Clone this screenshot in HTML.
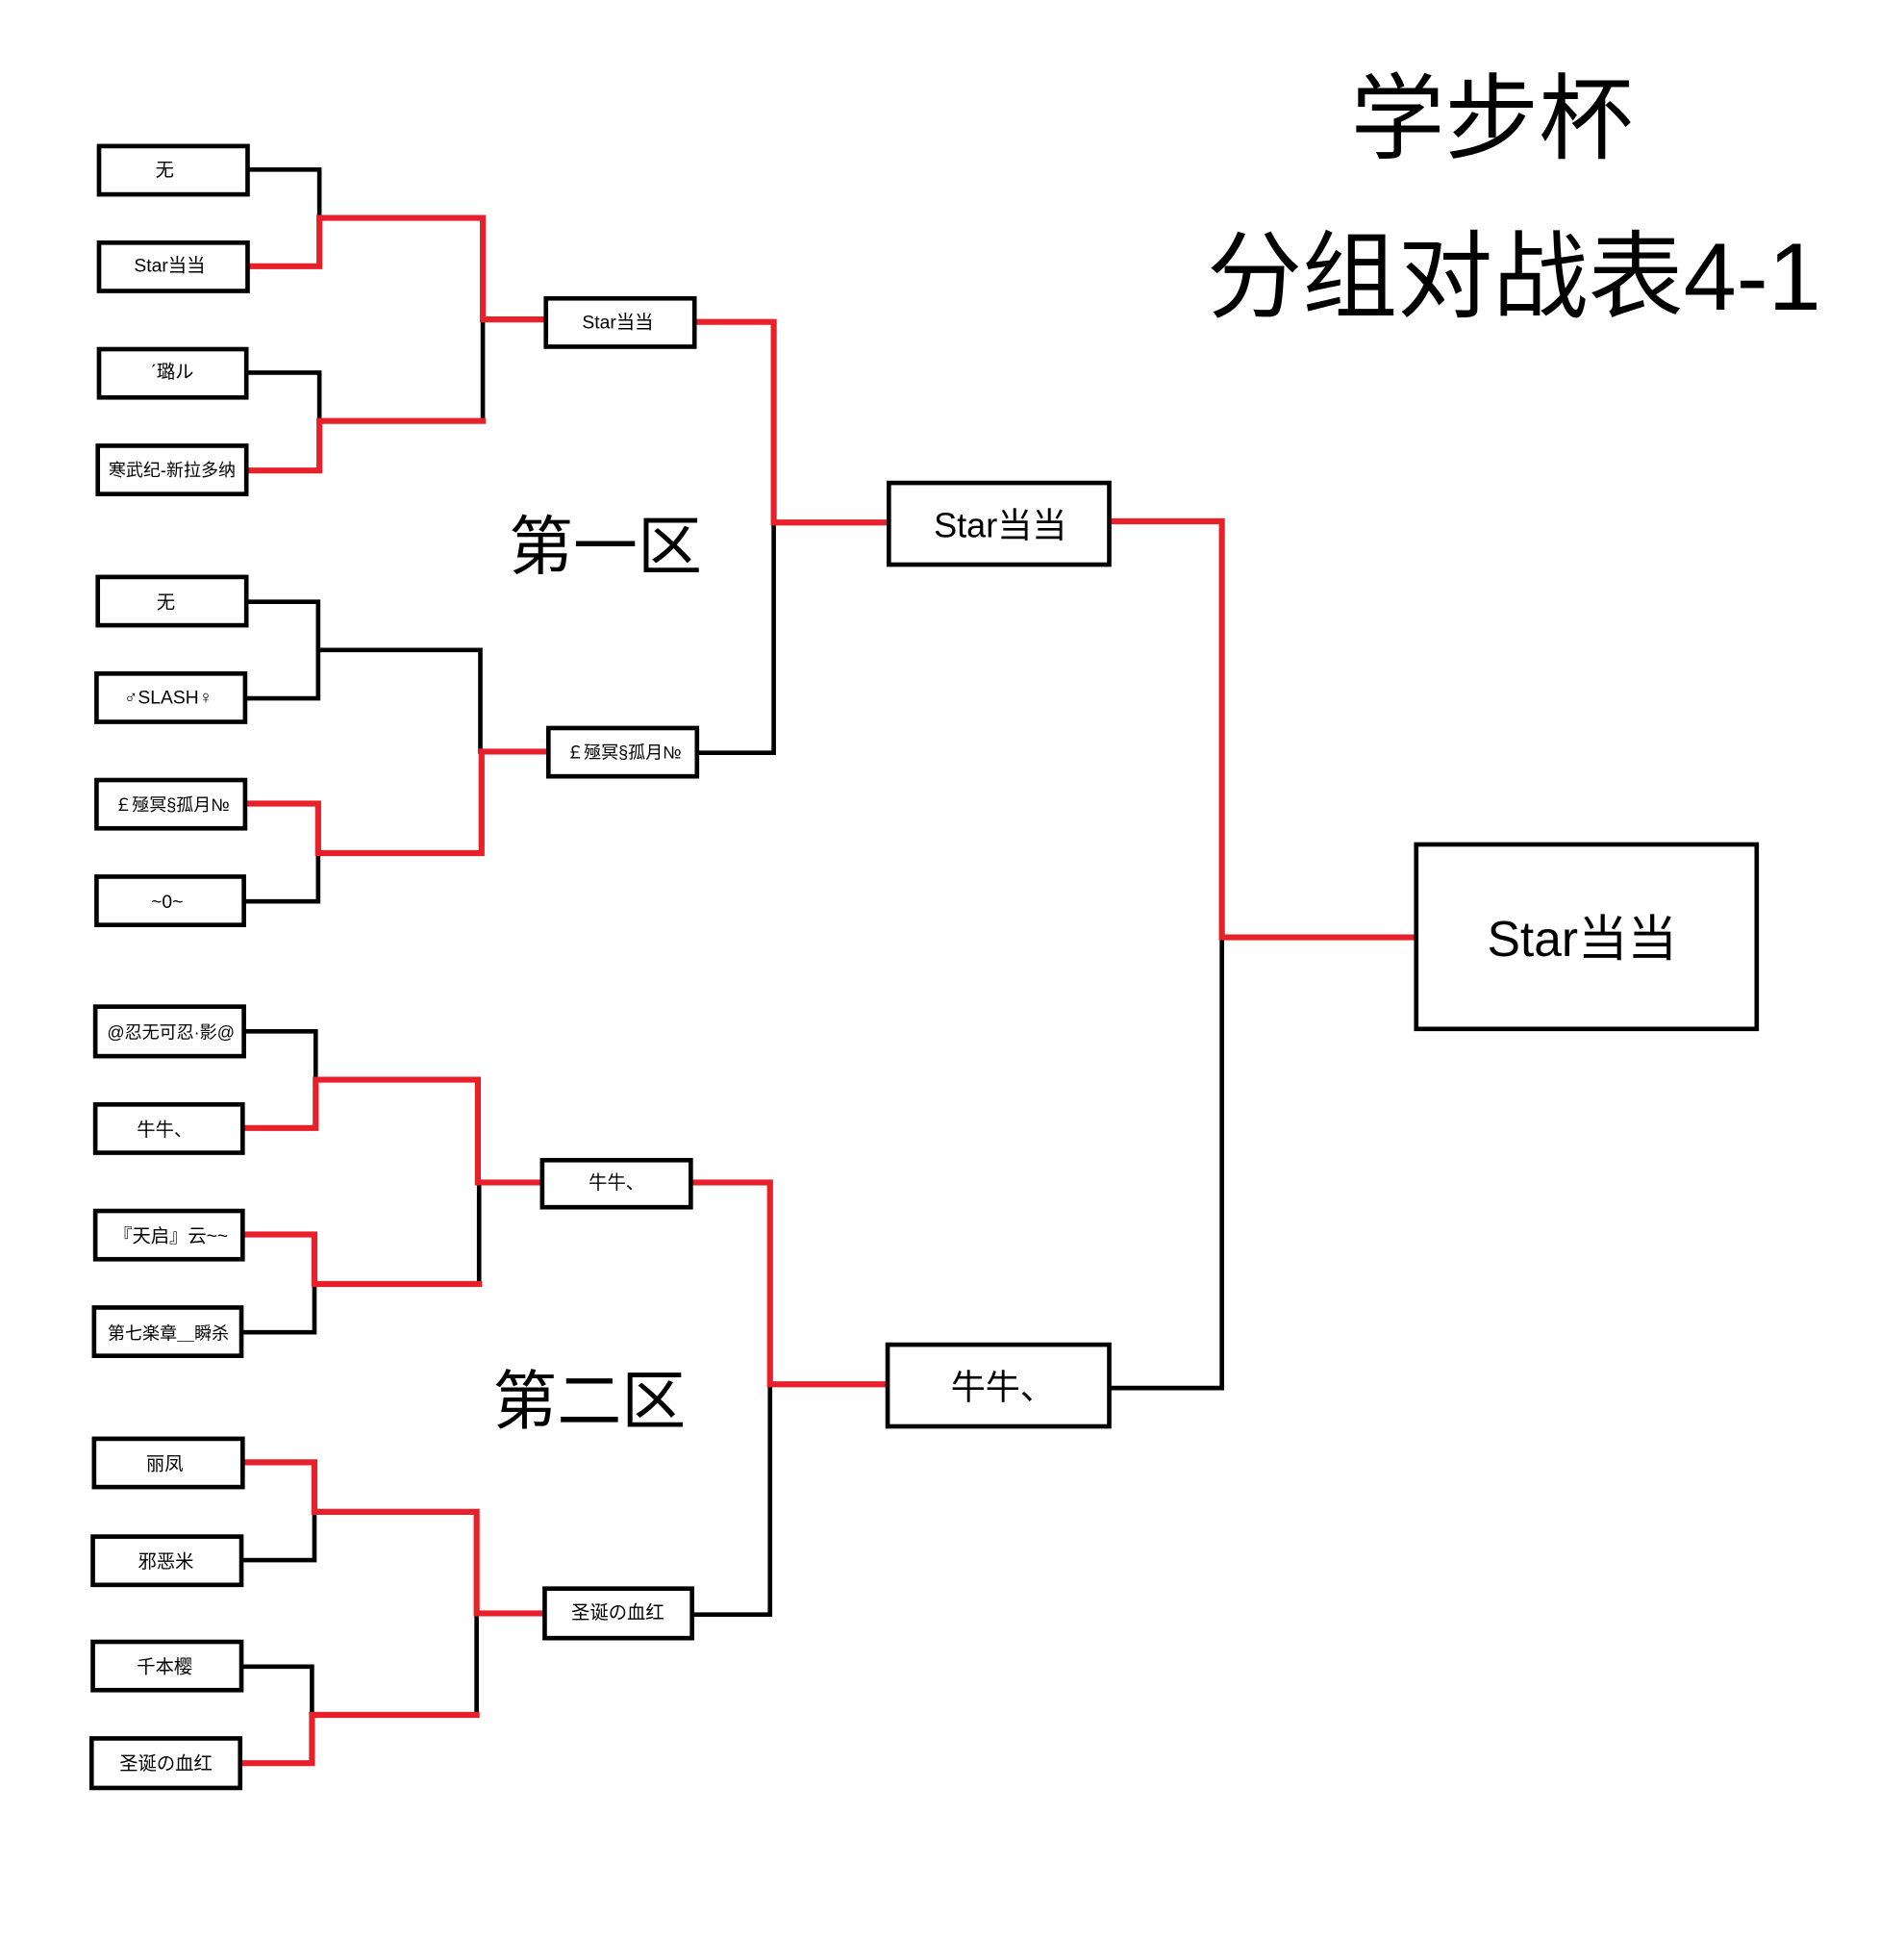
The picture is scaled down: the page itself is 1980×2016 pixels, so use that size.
<!DOCTYPE html>
<html><head><meta charset="utf-8"><style>
html,body{margin:0;padding:0;background:#fff;}
svg{display:block;}
text{font-family:"Liberation Sans","Noto Sans CJK SC",sans-serif;fill:#000;}
</style></head><body>
<svg width="1980" height="2016" viewBox="0 0 1538 1566" preserveAspectRatio="none" xmlns="http://www.w3.org/2000/svg">
<rect width="1538" height="1566" fill="#fff"/>
<g fill="none" stroke-width="3.6" stroke-linejoin="miter" stroke-linecap="square">
<g stroke="#000">
<polyline points="200,137 258,137 258,176"/>
<polyline points="199,301 258,301 258,340"/>
<polyline points="390,340 390,258"/>
<polyline points="199,486 257,486 257,564 198,564"/>
<polyline points="257,525 388,525 388,607"/>
<polyline points="197,728 257,728 257,689"/>
<polyline points="563,608 625,608 625,422"/>
<polyline points="987,757 987,1121 896,1121"/>
<polyline points="197,833 255,833 255,872"/>
<polyline points="195,1076 254,1076 254,1037"/>
<polyline points="387,1037 387,955"/>
<polyline points="559,1304 622,1304 622,1118"/>
<polyline points="195,1260 254,1260 254,1221"/>
<polyline points="195,1346 252,1346 252,1385"/>
<polyline points="385,1385 385,1303"/>
</g>
<g stroke="#e8202a" stroke-width="4.8">
<polyline points="200,215 258,215 258,176 390,176 390,258 441,258"/>
<polyline points="199,380 258,380 258,340 390,340"/>
<polyline points="198,649 257,649 257,689 389,689 389,607 443,607"/>
<polyline points="561,260 625,260 625,422 718,422"/>
<polyline points="896,421 987,421 987,757 1143,757"/>
<polyline points="196,911 255,911 255,872 386,872 386,955 438,955"/>
<polyline points="196,997 254,997 254,1037 387,1037"/>
<polyline points="558,955 622,955 622,1118 717,1118"/>
<polyline points="196,1181 254,1181 254,1221 385,1221 385,1303 440,1303"/>
<polyline points="194,1424 252,1424 252,1385 385,1385"/>
</g>
<g stroke="#000" fill="#fff" stroke-width="3.6">
<rect x="80" y="118" width="120" height="39"/>
<rect x="80" y="196" width="120" height="39"/>
<rect x="80" y="282" width="119" height="39"/>
<rect x="79" y="360" width="120" height="39"/>
<rect x="79" y="466" width="120" height="39"/>
<rect x="78" y="544" width="120" height="39"/>
<rect x="78" y="630" width="120" height="39"/>
<rect x="78" y="708" width="119" height="39"/>
<rect x="77" y="813" width="120" height="40"/>
<rect x="77" y="892" width="119" height="39"/>
<rect x="77" y="978" width="119" height="39"/>
<rect x="76" y="1056" width="119" height="39"/>
<rect x="76" y="1162" width="120" height="39"/>
<rect x="75" y="1241" width="120" height="39"/>
<rect x="75" y="1326" width="120" height="39"/>
<rect x="74" y="1404" width="120" height="40"/>
<rect x="441" y="241" width="120" height="39"/>
<rect x="443" y="588" width="120" height="39"/>
<rect x="438" y="937" width="120" height="38"/>
<rect x="440" y="1283" width="119" height="40"/>
<rect x="718" y="390" width="178" height="66"/>
<rect x="717" y="1086" width="179" height="66"/>
<rect x="1144" y="682" width="275" height="149"/>
</g>
</g>
<g font-size="15" text-anchor="middle" dominant-baseline="central">
<text x="133" y="138">无</text>
<text x="137" y="215">Star当当</text>
<text x="139" y="301">ˊ璐ル</text>
<text x="139" y="380" font-size="14">寒武纪-新拉多纳</text>
<text x="134" y="487">无</text>
<text x="136" y="564">♂SLASH♀</text>
<text x="139" y="650" font-size="14">￡殛冥§孤月№</text>
<text x="135" y="729">~0~</text>
<text x="138" y="834" font-size="14">@忍无可忍·影@</text>
<text x="133" y="913">牛牛、</text>
<text x="138" y="999">『天启』云~~</text>
<text x="136" y="1077" font-size="14">第七楽章＿瞬杀</text>
<text x="133" y="1183">丽凤</text>
<text x="134" y="1262">邪恶米</text>
<text x="133" y="1347">千本樱</text>
<text x="134" y="1425">圣诞の血红</text>
<text x="499" y="261">Star当当</text>
<text x="504" y="608" font-size="14">￡殛冥§孤月№</text>
<text x="498" y="956">牛牛、</text>
<text x="499" y="1303">圣诞の血红</text>
<text x="808" y="424" font-size="28">Star当当</text>
<text x="810" y="1120" font-size="28">牛牛、</text>
<text x="1278" y="758" font-size="40">Star当当</text>
<text x="489" y="442" font-size="52">第一区</text>
<text x="476" y="1132" font-size="52">第二区</text>
<text x="1205" y="96" font-size="76">学步杯</text>
<text x="1223" y="224" font-size="77">分组对战表4-1</text>
</g>
</svg>
</body></html>
